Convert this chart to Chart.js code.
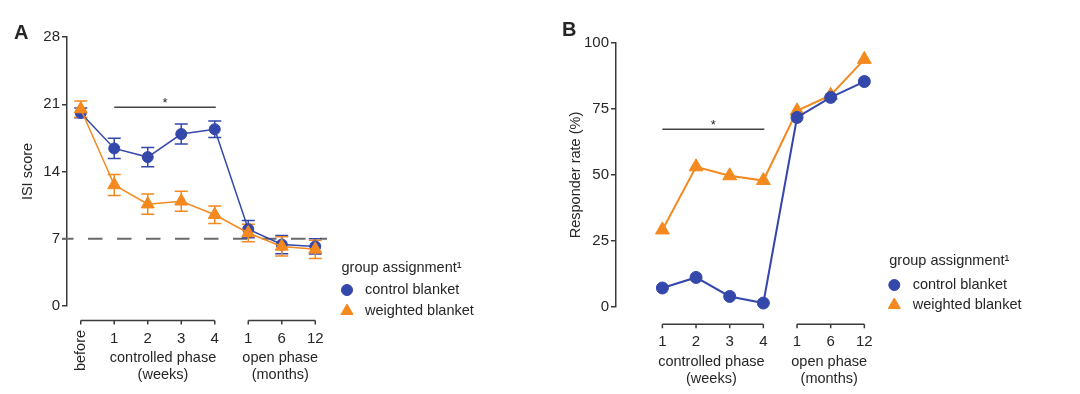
<!DOCTYPE html>
<html><head><meta charset="utf-8">
<script src="https://cdn.jsdelivr.net/npm/chart.js@4/dist/chart.umd.min.js"></script>
<style>
html,body{margin:0;padding:0;background:#fff;width:1080px;height:394px;overflow:hidden}
canvas{position:absolute;top:0}
#cA{left:0}#cB{left:540px}
</style></head>
<body>
<canvas id="cA" width="540" height="394"></canvas>
<canvas id="cB" width="540" height="394"></canvas>
<script>
// ---- data ----
const catsA = ['before', '1', '2', '3', '4', '1', '6', '12'];
const isiControl = [20.1, 16.4, 15.5, 17.9, 18.4, 8.0, 6.4, 6.2];
const isiControlErr = [0.5, 1.05, 1.0, 1.05, 0.85, 0.9, 0.95, 0.8];
const isiWeighted = [20.5, 12.6, 10.6, 10.9, 9.5, 7.6, 6.2, 5.9];
const isiWeightedErr = [0.85, 1.1, 1.05, 1.05, 0.9, 0.9, 1.0, 0.95];
const isiThreshold = 7;
const isiTicks = [0, 7, 14, 21, 28];

const catsB = ['1', '2', '3', '4', '1', '6', '12'];
const respControl = [7.2, 11.2, 4.0, 1.5, 71.8, 79.4, 85.4];
const respWeighted = [29.2, 53.1, 49.7, 47.9, 74.3, 80.2, 93.8];
const respTicks = [0, 25, 50, 75, 100];

const seriesNames = ['control blanket', 'weighted blanket'];
const legendTitle = 'group assignment¹';
const groupControlled = ['controlled phase', '(weeks)'];
const groupOpen = ['open phase', '(months)'];

// ---- style ----
const BLUE = '#3447ab', ORANGE = '#f4891f', INK = '#262626', AXIS = '#3a3a3a';
const FONT = '"Liberation Sans", Arial, Helvetica, sans-serif';

const toXY = arr => arr.map((v, i) => ({x: i, y: v}));

const decor = {
  id: 'decor',
  beforeDatasetsDraw(chart, args, o) {
    const ctx = chart.ctx, xs = chart.scales.x, ys = chart.scales.y, ca = chart.chartArea;
    ctx.save();
    if (o.threshold !== undefined) {
      const y = ys.getPixelForValue(o.threshold);
      ctx.strokeStyle = '#6a6a6a'; ctx.lineWidth = 2;
      ctx.setLineDash([14.5, 14.5]); ctx.lineDashOffset = 3;
      ctx.beginPath(); ctx.moveTo(ca.left - 5, y); ctx.lineTo(ca.right, y); ctx.stroke();
      ctx.setLineDash([]);
    }
    chart.data.datasets.forEach(ds => {
      if (!ds.errors) return;
      ctx.strokeStyle = ds.borderColor; ctx.lineWidth = 1.5;
      ds.data.forEach((p, i) => {
        const x = xs.getPixelForValue(p.x);
        const y1 = ys.getPixelForValue(p.y + ds.errors[i]);
        const y2 = ys.getPixelForValue(p.y - ds.errors[i]);
        ctx.beginPath();
        ctx.moveTo(x, y1); ctx.lineTo(x, y2);
        ctx.moveTo(x - 6.5, y1); ctx.lineTo(x + 6.5, y1);
        ctx.moveTo(x - 6.5, y2); ctx.lineTo(x + 6.5, y2);
        ctx.stroke();
      });
    });
    ctx.restore();
  },
  afterDraw(chart, args, o) {
    const ctx = chart.ctx, xs = chart.scales.x, ys = chart.scales.y;
    ctx.save();
    ctx.fillStyle = INK; ctx.strokeStyle = AXIS;
    // bracket axes
    ctx.lineWidth = 1.5;
    o.brackets.forEach(b => {
      const x1 = xs.getPixelForValue(b.from), x2 = xs.getPixelForValue(b.to);
      ctx.beginPath();
      ctx.moveTo(x1, o.bracketY); ctx.lineTo(x2, o.bracketY);
      for (let i = b.from; i <= b.to; i++) {
        const x = xs.getPixelForValue(i);
        ctx.moveTo(x, o.bracketY); ctx.lineTo(x, o.bracketY + 4);
      }
      ctx.stroke();
    });
    ctx.textAlign = 'center'; ctx.textBaseline = 'middle';
    o.cats.forEach((c, i) => {
      const x = xs.getPixelForValue(i);
      if (c === 'before') {
        ctx.font = '14.5px ' + FONT;
        ctx.save(); ctx.translate(x, o.bracketY + 30); ctx.rotate(-Math.PI / 2);
        ctx.fillText(c, 0, 0); ctx.restore();
      } else {
        ctx.font = '15px ' + FONT;
        ctx.fillText(c, x, o.bracketY + 18);
      }
    });
    ctx.font = '14.5px ' + FONT;
    o.groups.forEach(g => {
      const x = (xs.getPixelForValue(g.from) + xs.getPixelForValue(g.to)) / 2 - 1.5;
      ctx.fillText(g.text[0], x, o.bracketY + 37.5);
      ctx.fillText(g.text[1], x, o.bracketY + 54.5);
    });
    // significance bar
    const s = o.sig;
    const sy = ys.getPixelForValue(s.y);
    const sx1 = xs.getPixelForValue(s.from), sx2 = xs.getPixelForValue(s.to) + 1;
    ctx.strokeStyle = '#444';
    ctx.beginPath(); ctx.moveTo(sx1, sy); ctx.lineTo(sx2, sy); ctx.stroke();
    ctx.font = '13px ' + FONT;
    ctx.fillText('*', (sx1 + sx2) / 2, sy - 4);
    // panel letter
    ctx.font = 'bold 20px ' + FONT;
    ctx.textAlign = 'left'; ctx.textBaseline = 'middle';
    ctx.fillText(o.letter, o.letterX, o.letterY);
    // legend
    const L = o.legend;
    ctx.font = '14.5px ' + FONT;
    ctx.fillText(legendTitle, L.x, L.titleY);
    chart.data.datasets.slice().sort((a, b) => a.legendIndex - b.legendIndex).forEach((ds, k) => {
      const y = L.itemY[k];
      ctx.fillStyle = ds.backgroundColor; ctx.strokeStyle = ds.borderColor; ctx.lineWidth = 1;
      Chart.helpers.drawPoint(ctx, {pointStyle: ds.pointStyle, radius: ds.pointStyle === 'triangle' ? 7 : 5.5, rotation: 0, borderWidth: 1}, L.markerX, y);
      ctx.fillStyle = INK;
      ctx.fillText(seriesNames[ds.legendIndex], L.textX, y);
    });
    ctx.restore();
  }
};

function yAxis(min, max, ticks, title, width, titlePad) {
  return {
    type: 'linear', min, max,
    afterBuildTicks: s => { s.ticks = ticks.map(v => ({value: v})); },
    ticks: {color: INK, font: {family: FONT, size: 15}, padding: 2},
    grid: {display: true, drawOnChartArea: false, drawTicks: true, tickLength: 5, color: AXIS, lineWidth: 1.5},
    border: {display: true, color: AXIS, width: 1.5},
    title: {display: true, text: title, color: INK, font: {family: FONT, size: 14.5}, padding: {top: titlePad, bottom: 0}},
    afterFit: s => { s.width = width; }
  };
}

function ds(label, values, color, style, r, lw, order, legendIndex, errors) {
  return {
    label, data: toXY(values), borderColor: color, backgroundColor: color,
    pointStyle: style, pointRadius: r, pointBorderWidth: 1, pointHoverRadius: r,
    borderWidth: lw, tension: 0, clip: false, order, legendIndex, errors
  };
}

new Chart(document.getElementById('cA'), {
  type: 'line',
  data: {datasets: [
    ds(seriesNames[0], isiControl, BLUE, 'circle', 5.5, 1.5, 1, 0, isiControlErr),
    ds(seriesNames[1], isiWeighted, ORANGE, 'triangle', 7.5, 1.5, 0, 1, isiWeightedErr)
  ]},
  options: {
    responsive: false, animation: false, devicePixelRatio: 1,
    layout: {padding: {left: 0, top: 37, right: 213, bottom: 88}},
    scales: {
      x: {type: 'linear', display: false, min: -0.41, max: 7.35},
      y: yAxis(0, 28, isiTicks, 'ISI score', 67, 19.6)
    },
    plugins: {
      legend: {display: false}, tooltip: {enabled: false},
      decor: {
        threshold: isiThreshold, cats: catsA, bracketY: 320.5,
        brackets: [{from: 0, to: 4}, {from: 5, to: 7}],
        groups: [{from: 1, to: 4, text: groupControlled}, {from: 5, to: 7, text: groupOpen}],
        sig: {from: 1, to: 4, y: 20.7},
        letter: 'A', letterX: 14, letterY: 33,
        legend: {x: 341.5, titleY: 267.5, markerX: 347, textX: 365, itemY: [290, 311]}
      }
    }
  },
  plugins: [decor]
});

new Chart(document.getElementById('cB'), {
  type: 'line',
  data: {datasets: [
    ds(seriesNames[0], respControl, BLUE, 'circle', 6, 2, 0, 0),
    ds(seriesNames[1], respWeighted, ORANGE, 'triangle', 8, 2, 1, 1)
  ]},
  options: {
    responsive: false, animation: false, devicePixelRatio: 1,
    layout: {padding: {left: 0, top: 43, right: 182, bottom: 87}},
    scales: {
      x: {type: 'linear', display: false, min: -1.378, max: 7},
      y: yAxis(0, 100, respTicks, 'Responder rate (%)', 76, 27.6)
    },
    plugins: {
      legend: {display: false}, tooltip: {enabled: false},
      decor: {
        cats: catsB, bracketY: 324.3,
        brackets: [{from: 0, to: 3}, {from: 4, to: 6}],
        groups: [{from: 0, to: 3, text: groupControlled}, {from: 4, to: 6, text: groupOpen}],
        sig: {from: 0, to: 3, y: 67.3},
        letter: 'B', letterX: 22, letterY: 30,
        legend: {x: 349.3, titleY: 261, markerX: 354.3, textX: 372.7, itemY: [285, 305]}
      }
    }
  },
  plugins: [decor]
});
</script>
</body></html>
